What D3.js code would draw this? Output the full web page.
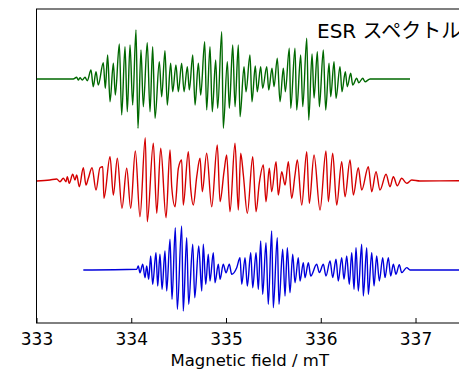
<!DOCTYPE html>
<html>
<head>
<meta charset="utf-8">
<script src="https://cdn.jsdelivr.net/npm/d3@7"></script>
<style>
  html, body { margin: 0; padding: 0; background: #fff; }
  svg { display: block; }
</style>
</head>
<body>
<div id="chart"></div>
<script>
// Extrema: field (mT) and signal (arb. units, 0 = baseline)
const greenField = [333.000, 333.388, 333.424, 333.441, 333.459, 333.483, 333.512, 333.536, 333.575, 333.599,
  333.628, 333.652, 333.705, 333.726, 333.751, 333.776, 333.811, 333.832, 333.874, 333.899,
  333.934, 333.958, 333.987, 334.015, 334.050, 334.071, 334.103, 334.127, 334.169, 334.198,
  334.226, 334.251, 334.296, 334.321, 334.356, 334.380, 334.416, 334.437, 334.472, 334.497,
  334.532, 334.557, 334.592, 334.613, 334.649, 334.673, 334.708, 334.733, 334.775, 334.796,
  334.831, 334.855, 334.891, 334.912, 334.955, 334.971, 335.014, 335.035, 335.071, 335.095,
  335.130, 335.148, 335.190, 335.211, 335.253, 335.274, 335.309, 335.330, 335.366, 335.387,
  335.430, 335.451, 335.485, 335.507, 335.541, 335.570, 335.605, 335.626, 335.668, 335.683,
  335.728, 335.746, 335.788, 335.810, 335.852, 335.873, 335.908, 335.929, 335.964, 335.985,
  336.027, 336.052, 336.087, 336.105, 336.140, 336.161, 336.203, 336.224, 336.259, 336.280,
  336.316, 336.337, 336.379, 336.401, 336.443, 336.467, 336.520, 336.942];
const greenSignal = [0, 0, 1.7, -1, 1.3, -1, 1.7, -1.7, 9, -7.7,
  7.3, -6, 16.3, -9.3, 24, -22.7, 15.7, -16, 35, -36,
  32.3, -32.7, 34, -26, 49, -49.3, 29, -27.7, 36.3, -32.7,
  32.3, -39.3, 17.3, -17.7, 28.3, -26, 15.7, -12.7, 14, -12.7,
  15.7, -12.7, 12.3, -11, 24, -26, 15.7, -16, 37.3, -31,
  32.3, -32.7, 19, -29.3, 47.3, -49.3, 17.3, -29.3, 34, -27.7,
  34, -37.7, 12.3, -12.7, 24, -22.7, 13, -12.7, 12.3, -9.3,
  12.3, -11, 10.7, -7.7, 20.7, -22.7, 10.7, -12.7, 30.7, -29.3,
  30.7, -31, 24, -27.7, 40.7, -41, 25, -19, 27.3, -27.7,
  29, -31, 15.7, -17.7, 17.3, -19.3, 12.3, -12.7, 7.3, -7.7,
  5.7, -6, 0.7, -3.7, 0.7, -2.7, 0, 0];

const redField = [333.002, 333.142, 333.213, 333.248, 333.283, 333.311, 333.325, 333.346, 333.382, 333.406,
  333.424, 333.452, 333.494, 333.522, 333.547, 333.586, 333.628, 333.670, 333.699, 333.712,
  333.776, 333.811, 333.853, 333.902, 333.952, 333.994, 334.043, 334.092, 334.148, 334.169,
  334.233, 334.269, 334.311, 334.367, 334.409, 334.427, 334.462, 334.497, 334.532, 334.549,
  334.602, 334.627, 334.655, 334.691, 334.726, 334.750, 334.796, 334.849, 334.908, 334.937,
  334.979, 335.007, 335.042, 335.095, 335.130, 335.155, 335.183, 335.225, 335.282, 335.317,
  335.351, 335.394, 335.422, 335.457, 335.482, 335.528, 335.552, 335.588, 335.623, 335.658,
  335.693, 335.728, 335.753, 335.799, 335.852, 335.879, 335.929, 335.992, 336.055, 336.080,
  336.126, 336.168, 336.221, 336.256, 336.309, 336.344, 336.396, 336.432, 336.502, 336.538,
  336.583, 336.625, 336.689, 336.731, 336.766, 336.808, 336.854, 336.907, 336.960, 337.047,
  337.459, 337.600];
const redSignal = [0, 1, 2, -0.7, 2.7, -0.7, 4.3, -2.3, 6.7, 1,
  6, -5.7, 13.3, -4, 2.7, 13.3, -9, 13.3, 14.3, -17.3,
  24.3, -14, 22.7, -27.3, 12.7, -27.3, 30, -35.7, 43.3, -40.7,
  37.7, -32.3, 32.7, -36.7, 31, -5.7, -25.7, 12.7, 21, -24,
  29.3, -7.3, -24, 4.3, 22.7, -10.7, 27.7, -25.7, 36, -20.7,
  9.3, 26, -30.7, 37.7, -29, 27.7, 6, -32.3, 24.3, -30.7,
  -2.3, 16, -20.7, 12.7, -10.7, 19.3, -14, 9.3, -4, 19.3,
  -17.3, 6, 21, -24, 29.3, -22.3, 26, -29, 30, -20.7,
  27.7, -24, 19.3, -15.7, 21, -14, 13.3, -9, 14.3, -10.7,
  9.3, -9, 6.7, -5.7, 4.3, -4.7, 2.7, -2.3, 1, 0,
  0.3, 0];

const blueField = [333.494, 334.058, 334.074, 334.092, 334.121, 334.145, 334.163, 334.184, 334.205, 334.226,
  334.261, 334.279, 334.303, 334.325, 334.356, 334.374, 334.409, 334.430, 334.465, 334.486,
  334.532, 334.549, 334.585, 334.606, 334.649, 334.670, 334.712, 334.744, 334.760, 334.786,
  334.813, 334.831, 334.866, 334.884, 334.919, 334.937, 334.971, 335.000, 335.035, 335.060,
  335.113, 335.148, 335.166, 335.201, 335.225, 335.261, 335.282, 335.317, 335.341, 335.366,
  335.387, 335.422, 335.446, 335.482, 335.499, 335.541, 335.559, 335.598, 335.623, 335.647,
  335.675, 335.704, 335.728, 335.763, 335.781, 335.816, 335.834, 335.869, 335.894, 335.957,
  335.985, 336.027, 336.055, 336.098, 336.126, 336.161, 336.185, 336.221, 336.245, 336.274,
  336.301, 336.327, 336.351, 336.372, 336.396, 336.432, 336.449, 336.485, 336.502, 336.538,
  336.562, 336.590, 336.618, 336.654, 336.678, 336.713, 336.738, 336.766, 336.794, 336.829,
  336.854, 336.907, 336.942, 337.600];
const blueSignal = [0, 0.7, 4, -2.7, 5.7, -7.7, 4, -9.3, 14, -14.3,
  17.3, -16, 15.7, -19.3, 19, -21, 30.7, -29.3, 42.3, -39.3,
  44, -41, 32.3, -34.3, 25.7, -27.7, 24, -21, 25.7, -14.3,
  15.7, -11, 17.3, -12.7, 5.7, -9.3, 5.7, -2.7, 5.7, -4.3,
  2.3, 12.3, -14.3, 12.3, -16, 17.3, -17.7, 17.3, -19.3, 29,
  -24.3, 27.3, -34.3, 39, -37.7, 32.3, -34.3, 20.7, -26, 22.3,
  -22.7, 15.7, -12.7, 12.3, -11, 7.3, -7.7, 7.3, -6, 5.7,
  -2.6, 5.7, -6, 9, -7.6, 10.7, -11, 12.4, -9.3, 14,
  -14.3, 17.4, -19.3, 22.4, -21, 25.7, -26, 22.4, -24.3, 17.4,
  -16, 14, -11, 12.4, -7.6, 12.4, -6, 5.7, -4.3, 5.4,
  -2.6, 2.4, 0, 0];

const xTicks = [333, 334, 335, 336, 337];
const xLabel = 'Magnetic field / mT';
const title = 'ESR スペクトル';

const series = [
  { field: greenField, signal: greenSignal, color: '#006800', offset: 244 },
  { field: redField, signal: redSignal, color: '#d40000', offset: 142 },
  { field: blueField, signal: blueSignal, color: '#0000dc', offset: 53 }
];

const W = 459, H = 370;
const margin = { left: 36.5, top: 9, bottom: 47 };
const plotW = 426.4;
const plotH = H - margin.top - margin.bottom;

const svg = d3.select('#chart').append('svg')
  .attr('width', W)
  .attr('height', H);

const x = d3.scaleLinear().domain([333, 337.5]).range([margin.left, margin.left + plotW]);
const y = d3.scaleLinear().domain([0, plotH]).range([margin.top + plotH, margin.top]);

svg.append('clipPath').attr('id', 'clip')
  .append('rect')
  .attr('x', margin.left).attr('y', margin.top)
  .attr('width', plotW).attr('height', plotH);

const line = d3.line()
  .x(d => x(d[0]))
  .y(d => y(d[1]))
  .curve(d3.curveMonotoneX);

// Traces
svg.append('g')
  .attr('clip-path', 'url(#clip)')
  .selectAll('path')
  .data(series)
  .join('path')
  .attr('fill', 'none')
  .attr('stroke', s => s.color)
  .attr('stroke-width', 1.4)
  .attr('stroke-linejoin', 'round')
  .attr('d', s => line(s.field.map((f, i) => [f, s.signal[i] + s.offset])));

// Frame
svg.append('rect')
  .attr('x', margin.left).attr('y', margin.top)
  .attr('width', plotW).attr('height', plotH)
  .attr('fill', 'none')
  .attr('stroke', '#000')
  .attr('stroke-width', 1);

// Bottom axis, ticks pointing inward
const xAxis = svg.append('g')
  .attr('transform', `translate(0,${margin.top + plotH})`)
  .call(d3.axisBottom(x).tickValues(xTicks).tickFormat(d3.format('d'))
    .tickSizeInner(-5).tickSizeOuter(0).tickPadding(10));
xAxis.select('.domain').remove();
xAxis.selectAll('text')
  .attr('fill', '#000')
  .style('font-family', '"DejaVu Sans", sans-serif')
  .style('font-size', '17px');

svg.append('text')
  .attr('x', margin.left + plotW / 2)
  .attr('y', 366)
  .attr('text-anchor', 'middle')
  .style('font-family', '"DejaVu Sans", sans-serif')
  .style('font-size', '16.5px')
  .text(xLabel);

svg.append('text')
  .attr('x', 317)
  .attr('y', 38)
  .style('font-family', '"DejaVu Sans", "Noto Sans CJK JP", sans-serif')
  .style('font-size', '20px')
  .text(title);
</script>
</body>
</html>
